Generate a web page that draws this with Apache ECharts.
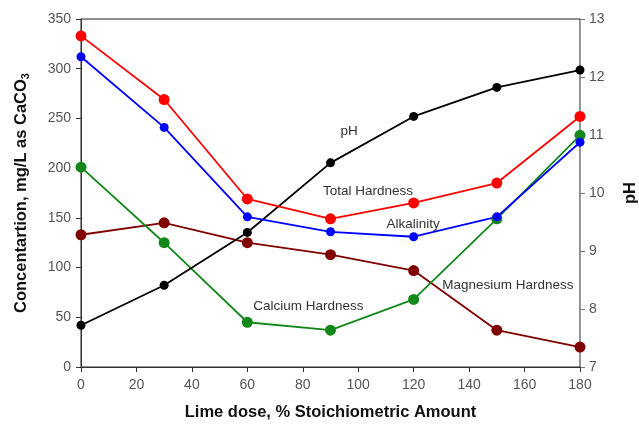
<!DOCTYPE html>
<html>
<head>
<meta charset="utf-8">
<script src="https://cdn.jsdelivr.net/npm/echarts@6/dist/echarts.min.js"></script>
<style>
html,body{margin:0;padding:0;background:#fff;}
#main{width:639px;height:427px;}
</style>
</head>
<body>
<div id="main"></div>
<script>
const limeDose = [0, 30, 60, 90, 120, 150, 180];
const totalHardness = [333, 269, 169, 149, 165, 185, 252];
const alkalinity = [312, 241, 151, 136, 131, 151, 226];
const calciumHardness = [201, 125, 45, 37, 68, 149, 233];
const magnesiumHardness = [133, 145, 125, 113, 97, 37, 20];
const pHValues = [7.72, 8.41, 9.32, 10.52, 11.32, 11.82, 12.12];

const seriesNames = ['Total Hardness', 'Alkalinity', 'Calcium Hardness', 'Magnesium Hardness', 'pH'];
// annotation anchors in data coordinates [x, y(left axis)]
const annotationText = ['pH', 'Total Hardness', 'Alkalinity', 'Calcium Hardness', 'Magnesium Hardness'];
const annotationAt = [[96.7, 237], [103.5, 177], [119.8, 144], [82, 61], [154, 82.5]];

const FONT = '"Liberation Sans", Arial, sans-serif';
const pairs = arr => limeDose.map((x, i) => [x, arr[i]]);

const chart = echarts.init(document.getElementById('main'), null, {renderer: 'canvas'});

function mkSeries(name, data, color, size, yIdx) {
  return {
    name: name, type: 'line', data: pairs(data), yAxisIndex: yIdx || 0,
    symbol: 'circle', symbolSize: size,
    lineStyle: {color: color, width: 1.8},
    itemStyle: {color: color},
    emphasis: {disabled: true},
    animation: false
  };
}

chart.setOption({
  animation: false,
  textStyle: {fontFamily: FONT},
  grid: {left: 81, right: 59, top: 19, bottom: 60, containLabel: false, outerBoundsMode: 'none',
         show: true, borderColor: '#222', borderWidth: 1, backgroundColor: 'transparent'},
  xAxis: {
    type: 'value', min: 0, max: 180, interval: 20,
    name: 'Lime dose, % Stoichiometric Amount', nameLocation: 'middle', nameGap: 37,
    nameTextStyle: {fontFamily: FONT, fontSize: 16.5, fontWeight: 'bold', color: '#111'},
    axisLine: {show: true, lineStyle: {color: '#333', width: 1}},
    axisTick: {show: true, length: 5, lineStyle: {color: '#333'}},
    axisLabel: {fontFamily: FONT, fontSize: 14, color: '#555', margin: 11},
    splitLine: {show: false}
  },
  yAxis: [
    {
      type: 'value', min: 0, max: 350, interval: 50, position: 'left',
      name: '{n|Concentartion, mg/L as CaCO}{s|3}', nameLocation: 'middle', nameGap: 50, nameRotate: 90,
      nameTextStyle: {
        rich: {
          n: {fontFamily: FONT, fontSize: 16.5, fontWeight: 'bold', color: '#111'},
          s: {fontFamily: FONT, fontSize: 11, fontWeight: 'bold', color: '#111', verticalAlign: 'bottom', padding: [9, 0, 0, 0]}
        }
      },
      axisLine: {show: true, lineStyle: {color: '#333', width: 1}},
      axisTick: {show: true, length: 5, lineStyle: {color: '#333'}},
      axisLabel: {fontFamily: FONT, fontSize: 14, color: '#555', margin: 10},
      splitLine: {show: false}
    },
    {
      type: 'value', min: 7, max: 13, interval: 1, position: 'right',
      name: 'pH', nameLocation: 'middle', nameGap: 42, nameRotate: 90,
      nameTextStyle: {fontFamily: FONT, fontSize: 16.5, fontWeight: 'bold', color: '#111'},
      axisLine: {show: true, lineStyle: {color: '#999', width: 1}},
      axisTick: {show: true, length: 5, lineStyle: {color: '#777'}},
      axisLabel: {fontFamily: FONT, fontSize: 14, color: '#555', margin: 9},
      splitLine: {show: false}
    }
  ],
  series: [
    mkSeries(seriesNames[3], magnesiumHardness, '#800000', 11),
    mkSeries(seriesNames[2], calciumHardness, '#12881a', 11),
    mkSeries(seriesNames[4], pHValues, '#000000', 9, 1),
    mkSeries(seriesNames[1], alkalinity, '#0000ff', 9),
    mkSeries(seriesNames[0], totalHardness, '#ff0000', 11)
  ]
});

const graphics = annotationText.map((t, i) => {
  const p = chart.convertToPixel({xAxisIndex: 0, yAxisIndex: 0}, annotationAt[i]);
  return {
    type: 'text', x: p[0], y: p[1], silent: true, z: 100,
    style: {text: t, fontFamily: FONT, fontSize: 13.5, fill: '#333', align: 'center', verticalAlign: 'middle'}
  };
});
chart.setOption({graphic: graphics});
</script>
</body>
</html>
